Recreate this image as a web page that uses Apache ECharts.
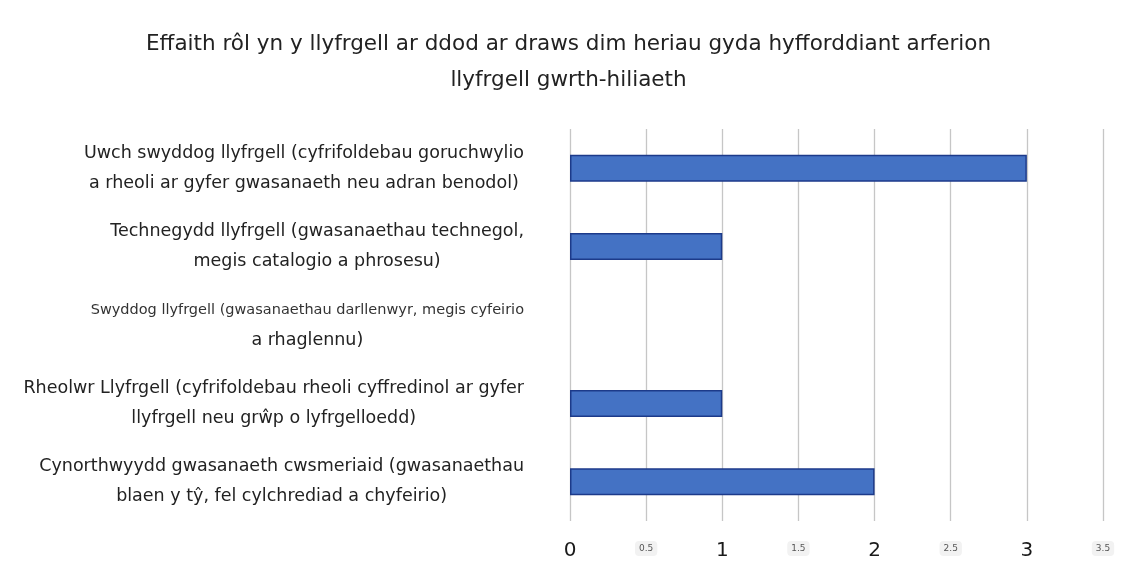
<!DOCTYPE html>
<html>
<head>
<meta charset="utf-8">
<script src="https://cdn.jsdelivr.net/npm/echarts@6/dist/echarts.min.js"></script>
<style>
  html, body { margin: 0; padding: 0; background: #fff; }
  #main { width: 1137px; height: 578px; }
</style>
</head>
<body>
<div id="main"></div>
<script>
// categories (top to bottom)
var categories = [
    'Uwch swyddog llyfrgell (cyfrifoldebau goruchwylio\na rheoli ar gyfer gwasanaeth neu adran benodol)',
    'Technegydd llyfrgell (gwasanaethau technegol,\nmegis catalogio a phrosesu)',
    'Swyddog llyfrgell (gwasanaethau darllenwyr, megis cyfeirio\na rhaglennu)',
    'Rheolwr Llyfrgell (cyfrifoldebau rheoli cyffredinol ar gyfer\nllyfrgell neu grŵp o lyfrgelloedd)',
    'Cynorthwyydd gwasanaeth cwsmeriaid (gwasanaethau\nblaen y tŷ, fel cylchrediad a chyfeirio)'
];
// values
var counts = [3, 1, 0, 1, 2];
// x ticks
var xMin = 0, xMax = 3.5, xStep = 0.5;

var titleText = 'Effaith rôl yn y llyfrgell ar ddod ar draws dim heriau gyda hyfforddiant arferion\nllyfrgell gwrth-hiliaeth';

var font = '"DejaVu Sans", Verdana, sans-serif';

// zero bars get no outline
var barData = [];
for (var i = 0; i < counts.length; i++) {
    barData.push({
        value: counts[i],
        itemStyle: counts[i] === 0 ? { borderWidth: 0 } : undefined
    });
}

var option = {
    backgroundColor: '#ffffff',
    title: {
        text: titleText,
        left: 'center',
        top: 21,
        textStyle: {
            fontFamily: font,
            fontSize: 21.5,
            fontWeight: 'normal',
            color: '#222',
            lineHeight: 36
        }
    },
    grid: {
        left: 570,
        right: 34,
        top: 129,
        bottom: 57,
        containLabel: false
    },
    xAxis: {
        type: 'value',
        min: xMin,
        max: xMax,
        interval: xStep,
        axisLine: { show: false },
        axisTick: { show: false },
        splitLine: { show: true, lineStyle: { color: '#c6c6c6', width: 1.3 } },
        axisLabel: {
            margin: 20,
            fontFamily: font,
            formatter: function (v) {
                if (v % 1 === 0) return '{big|' + v + '}';
                return '{small|' + v + '}';
            },
            rich: {
                big: { fontSize: 20, color: '#1a1a1a', fontFamily: font },
                small: {
                    fontSize: 9, color: '#555', fontFamily: font,
                    backgroundColor: '#f2f2f2', padding: [3, 4], borderRadius: 4
                }
            }
        }
    },
    yAxis: {
        type: 'category',
        data: categories,
        inverse: true,
        axisLine: { show: false },
        axisTick: { show: false },
        splitLine: { show: false },
        axisLabel: {
            align: 'right',
            margin: 46,
            fontFamily: font,
            formatter: function (v, idx) {
                var lines = v.split('\n');
                var first = idx === 2 ? 'sm' : 'ln';
                return '{' + first + '|' + lines[0] + '}\n{ln|' + lines[1] + '}';
            },
            rich: {
                ln: {
                    fontSize: 17.5, color: '#222', fontFamily: font, lineHeight: 30,
                    align: 'center'
                },
                sm: {
                    fontSize: 14.5, color: '#333', fontFamily: font, lineHeight: 30,
                    align: 'center'
                }
            }
        }
    },
    series: [{
        type: 'bar',
        data: barData,
        barWidth: 27,
        itemStyle: {
            color: '#4472c4',
            borderColor: '#1c3a8a',
            borderWidth: 1.5
        }
    }]
};

var myChart = echarts.init(document.getElementById('main'));
myChart.setOption(option);
</script>
</body>
</html>
